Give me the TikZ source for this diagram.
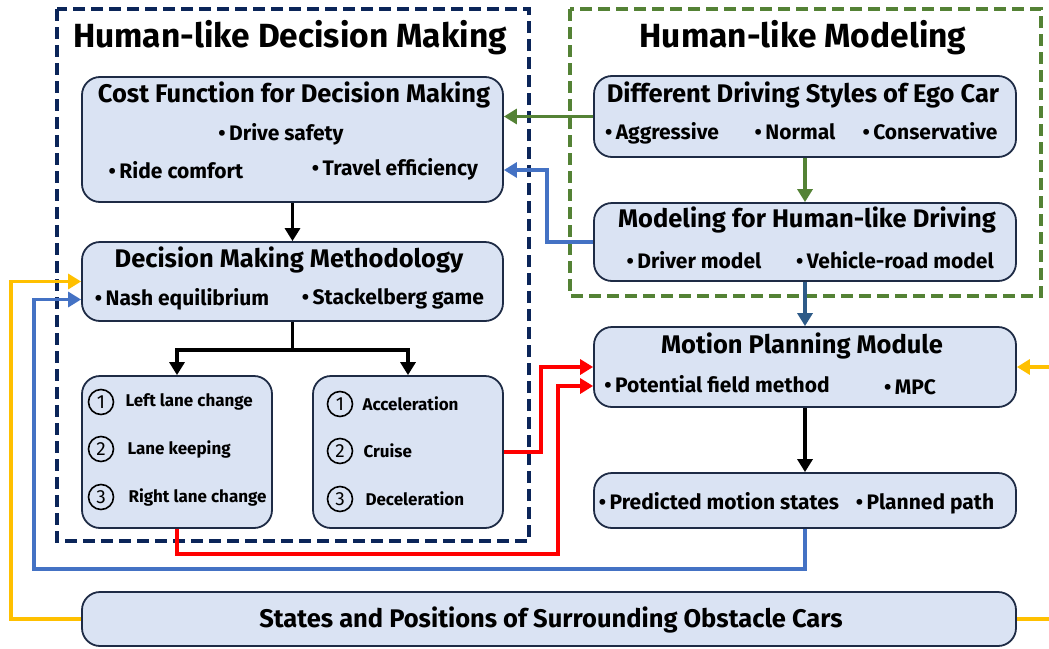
\documentclass[tikz,border=0pt]{standalone}
\usepackage{fontspec}
\setmainfont{Fira Sans}
\usetikzlibrary{arrows.meta}
\definecolor{boxfill}{HTML}{DAE3F3}
\definecolor{boxline}{HTML}{1E2B45}
\definecolor{navydash}{HTML}{0B2559}
\definecolor{greenline}{HTML}{548235}
\definecolor{blueline}{HTML}{4472C4}
\definecolor{steelline}{HTML}{2E5B88}
\definecolor{yellowline}{HTML}{FFC000}
\definecolor{redline}{HTML}{FF0000}
\tikzset{
  box/.style={draw=boxline, fill=boxfill, line width=1.8pt, rounded corners=18pt, inner sep=0pt},
  frame/.style={line width=3.5pt, dash pattern=on 12pt off 6pt},
  bigtitle/.style={font=\fontsize{33.5}{38}\selectfont\bfseries},
  boxtitle/.style={font=\fontsize{25.5}{30}\selectfont\bfseries},
  bullet/.style={font=\fontsize{21}{25}\selectfont\bfseries},
  option/.style={font=\fontsize{17}{20}\selectfont\bfseries, anchor=west},
  numcircle/.style={circle, draw, line width=1.6pt, minimum size=25pt, inner sep=0pt, font=\fontsize{19}{20}\selectfont},
  link/.style={line width=3.6pt, -{Triangle[length=13pt, width=15pt]}},
  plain/.style={line width=3.6pt}
}
\newcommand{\dotitem}[1]{\textbullet\,#1}
\begin{document}
\begin{tikzpicture}[x=1pt, y=-1pt]
\useasboundingbox (0,0) rectangle (1049,648);
\clip (0,0) rectangle (1049,648);
\draw[frame, navydash] (57,9) rectangle (529,541);
\draw[frame, greenline] (570,9) rectangle (1041,296);
\node[bigtitle] (dmtitle) at (290,38) {Human-like Decision Making};
\node[bigtitle] (hmtitle) at (803,38) {Human-like Modeling};

\node[box, minimum width=421pt, minimum height=125pt] (cost) at (292.5,139.5) {};
\node[box, minimum width=421pt, minimum height=79pt] (dmm) at (292.5,281.5) {};
\node[box, minimum width=190pt, minimum height=152pt] (lanes) at (177,452) {};
\node[box, minimum width=190pt, minimum height=152pt] (speeds) at (408,452) {};
\node[box, minimum width=422pt, minimum height=81pt] (styles) at (805,116.5) {};
\node[box, minimum width=422pt, minimum height=78pt] (model) at (805,242) {};
\node[box, minimum width=422pt, minimum height=80pt] (motion) at (805,367) {};
\node[box, minimum width=422pt, minimum height=55pt] (pred) at (805,500.5) {};
\node[box, minimum width=934pt, minimum height=54pt] (states) at (549,619) {};

\node[boxtitle] (costtitle) at (294,95) {Cost Function for Decision Making};
\node[bullet] (safety) at (281,134) {\dotitem{Drive safety}};
\node[bullet] (comfort) at (176,170) {\dotitem{Ride comfort}};
\node[bullet] (efficiency) at (395,169) {\dotitem{Travel efficiency}};
\node[boxtitle] (dmmtitle) at (289,260) {Decision Making Methodology};
\node[bullet] (nash) at (182,299) {\dotitem{Nash equilibrium}};
\node[bullet] (stackelberg) at (393,299) {\dotitem{Stackelberg game}};
\node[numcircle] (n1) at (101,402) {1};
\node[numcircle] (n2) at (101,449) {2};
\node[numcircle] (n3) at (101,497) {3};
\node[option] (left) at (122,402) {Left lane change};
\node[option] (keep) at (124,449) {Lane keeping};
\node[option] (right) at (125,497) {Right lane change};
\node[numcircle] (m1) at (340,404) {1};
\node[numcircle] (m2) at (340,451) {2};
\node[numcircle] (m3) at (340,499) {3};
\node[option] (accel) at (359,404) {Acceleration};
\node[option] (cruise) at (360,451) {Cruise};
\node[option] (decel) at (362,499) {Deceleration};

\node[boxtitle] (stylestitle) at (803,95) {Different Driving Styles of Ego Car};
\node[bullet] (aggressive) at (662,133) {\dotitem{Aggressive}};
\node[bullet] (normal) at (795,132) {\dotitem{Normal}};
\node[bullet] (conservative) at (930,131) {\dotitem{Conservative}};
\node[boxtitle] (modeltitle) at (807,220) {Modeling for Human-like Driving};
\node[bullet] (driver) at (694,260) {\dotitem{Driver model}};
\node[bullet] (vehicle) at (895,260) {\dotitem{Vehicle-road model}};
\node[boxtitle] (motiontitle) at (802,346) {Motion Planning Module};
\node[bullet] (field) at (717,384) {\dotitem{Potential field method}};
\node[bullet] (mpc) at (910,387) {\dotitem{MPC}};
\node[bullet] (predicted) at (719,501) {\dotitem{Predicted motion states}};
\node[bullet] (path) at (925,504) {\dotitem{Planned path}};
\node[boxtitle] (statestitle) at (551,620) {States and Positions of Surrounding Obstacle Cars};

\draw[link] (cost.south) -- (dmm.north);
\draw[plain] (dmm.south) -- ++(0,28) coordinate (split);
\draw[link] (split) -| (lanes.north);
\draw[link] (split) -| (speeds.north);
\draw[link, greenline] (styles.west) -- (styles.west -| cost.east);
\draw[link, greenline] (styles.south) -- (model.north);
\draw[link, blueline] (model.west) -- ++(-46,0) |- ([yshift=-30.5pt]cost.east);
\draw[link, steelline] (model.south) -- (motion.north);
\draw[link] (motion.south) -- (pred.north);
\draw[link, redline] (speeds.east) -- ++(37,0) |- (motion.west);
\draw[link, redline] (lanes.south) -- ++(0,25) -| ([xshift=-35pt, yshift=-19pt]motion.west) -- ([yshift=-19pt]motion.west);
\draw[link, blueline] (pred.south) -- ++(0,40) -| ([xshift=-47pt, yshift=-18pt]dmm.west) -- ([yshift=-18pt]dmm.west);
\draw[link, yellowline] (states.west) -- ++(-70,0) |- (dmm.west);
\draw[link, yellowline] (states.east) -- ++(60,0) |- (motion.east);
\end{tikzpicture}
\end{document}
